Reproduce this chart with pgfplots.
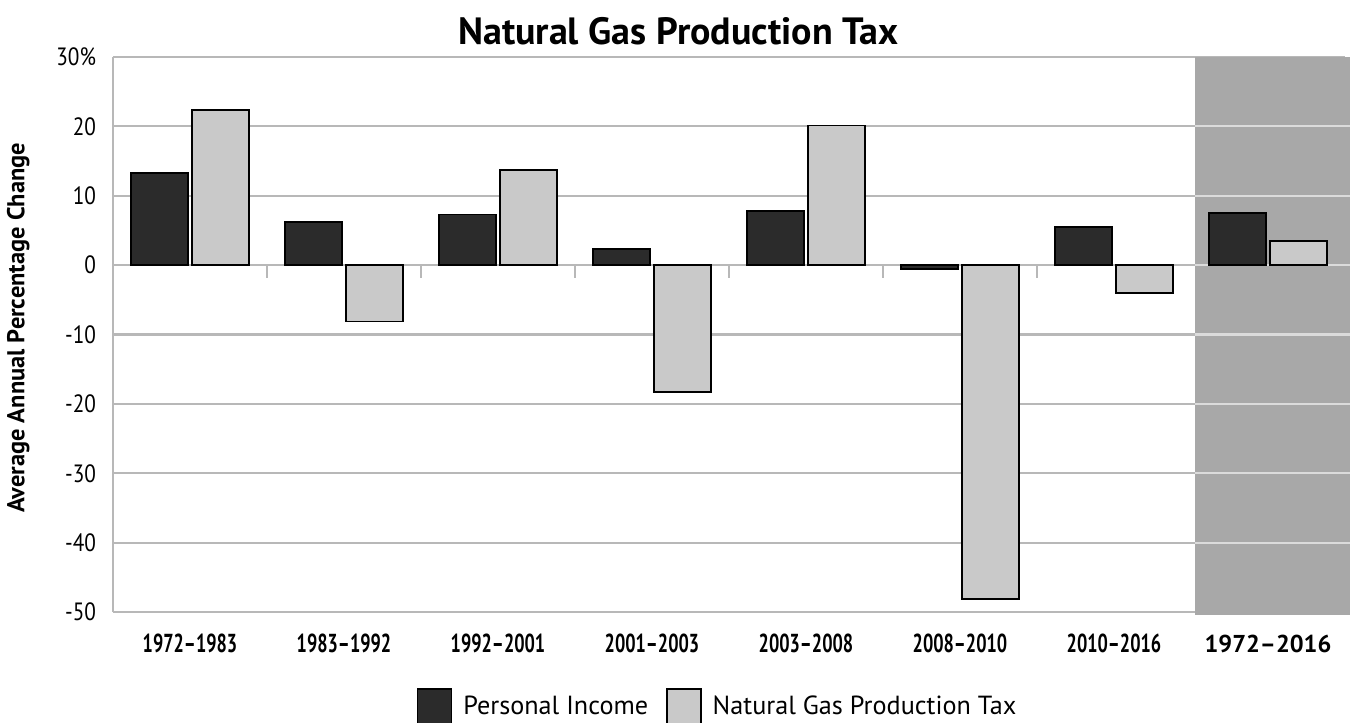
\documentclass[border=0pt]{standalone}
\usepackage{fontspec}
\setmainfont{PT Sans}
\newfontfamily\cond[FakeStretch=0.70]{PT Sans}
\newfontfamily\condy[FakeStretch=0.85]{PT Sans}
\usepackage{pgfplots}
\pgfplotsset{compat=1.18}

\definecolor{pidark}{HTML}{2B2B2B}
\definecolor{ngtlight}{HTML}{C9C9C9}
\definecolor{bandgray}{HTML}{A8A8A8}
\definecolor{gridgray}{HTML}{B8B8B8}

\pgfplotsset{swatch/.style={legend image code/.code={\draw[##1] (0pt,-9pt) rectangle (17pt,9pt);}}}

% average annual percentage change
\pgfplotstableread{
x pi ngt
0 13.3 22.4
1 6.2 -8.1
2 7.3 13.7
3 2.3 -18.3
4 7.8 20.1
5 -0.6 -48.1
6 5.5 -4.0
7 7.5 3.5
}\data

\begin{document}
\begin{tikzpicture}
\useasboundingbox (-56.5pt,-55.5pt) rectangle (621.5pt,306pt);
\begin{axis}[
  at={(0,0)}, anchor=south west,
  scale only axis, width=616pt, height=277.5pt,
  xmin=-0.5, xmax=7.5, ymin=-50, ymax=30,
  clip=false,
  axis line style={draw=none},
  major tick length=0pt,
  xtick={0,...,7},
  xticklabels={{\cond\bfseries 1972–1983},{\cond\bfseries 1983–1992},{\cond\bfseries 1992–2001},{\cond\bfseries 2001–2003},{\cond\bfseries 2003–2008},{\cond\bfseries 2008–2010},{\cond\bfseries 2010–2016},{\bfseries\fontsize{12.2}{14}\selectfont 1972–2016}},
  xticklabel style={anchor=base, yshift=-20pt, font=\fontsize{13}{15}\selectfont},
  ytick={-50,-40,...,30},
  yticklabels={-50,-40,-30,-20,-10,0,10,20,30\%},
  yticklabel style={xshift=-5pt, font=\condy\fontsize{12.5}{14}\selectfont},
  ymajorgrids,
  grid style={gridgray, line width=1.1pt},
  ylabel={\bfseries Average Annual Percentage Change},
  ylabel style={at={(axis description cs:-0.077,0.512)}, anchor=center, font=\fontsize{12.2}{14}\selectfont},
  title={\bfseries Natural Gas Production Tax},
  title style={at={(axis description cs:0.459,1)}, anchor=base, yshift=0.5pt, font=\fontsize{19}{22}\selectfont},
  legend columns=2,
  legend style={at={(axis description cs:0.4915,0)}, anchor=center, yshift=-47.5pt, draw=none, fill=none,
    font=\fontsize{13.1}{16}\selectfont,
    /tikz/every odd column/.append style={column sep=3.5pt},
    /tikz/every even column/.append style={column sep=7pt}},
]
\fill[bandgray] (axis cs:6.526,-50.4) rectangle (axis cs:7.53,30);
\pgfplotsinvokeforeach{-40,-30,-20,-10,0,10,20}{
  \draw[black!14, line width=1.1pt] (axis cs:6.526,#1) -- (axis cs:7.53,#1);
}
\draw[gridgray, line width=0.7pt] (axis cs:-0.5,-50) -- (axis cs:-0.5,30);
\pgfplotsinvokeforeach{0.5,1.5,2.5,3.5,4.5,5.5}{
  \draw[gridgray, line width=1pt] (axis cs:#1,0) -- (axis cs:#1,-1.8);
}
\addplot[ybar, bar width=28.5pt, bar shift=-15.25pt, fill=pidark, draw=black, line width=0.8pt, swatch]
  table[x=x, y=pi] {\data};
\addplot[ybar, bar width=28.5pt, bar shift=15.25pt, fill=ngtlight, draw=black, line width=0.8pt, swatch]
  table[x=x, y=ngt] {\data};
\legend{Personal Income, Natural Gas Production Tax}
\end{axis}
\end{tikzpicture}
\end{document}
